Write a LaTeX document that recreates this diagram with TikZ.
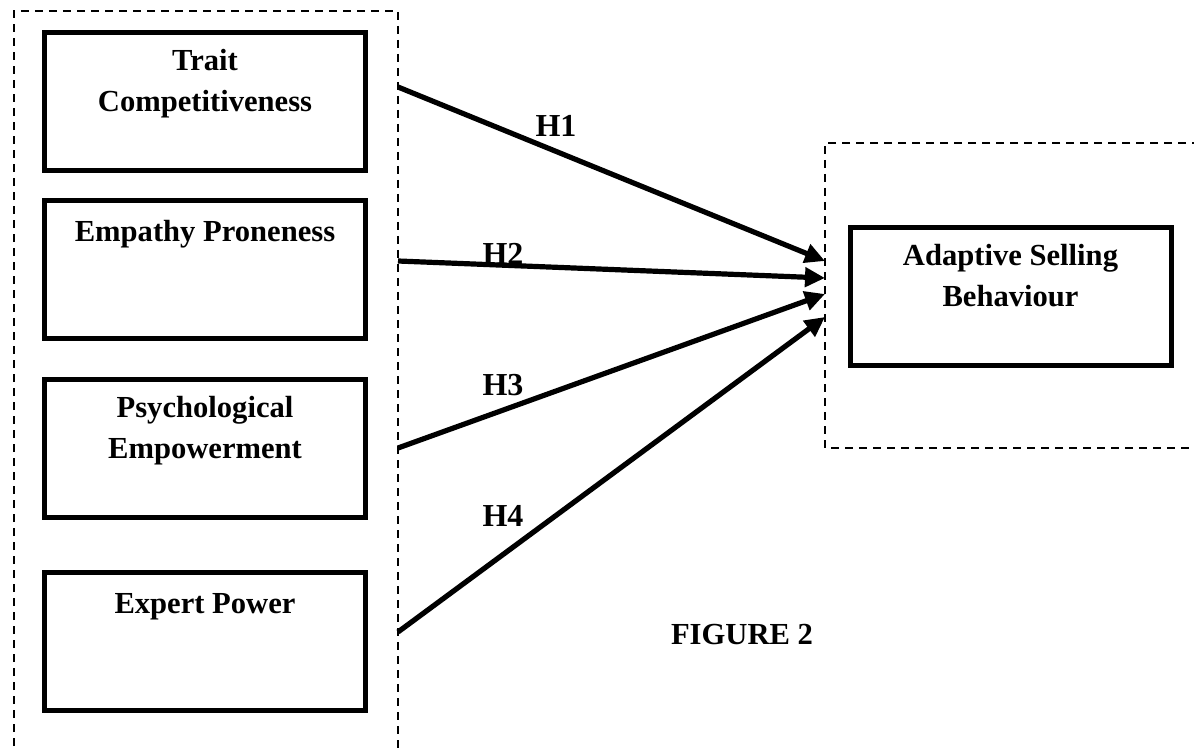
\documentclass[tikz,border=0pt]{standalone}
\usepackage{fontspec}
\setmainfont{Liberation Serif}
\usetikzlibrary{arrows.meta,positioning}
\tikzset{
  construct/.style={draw, line width=2.5pt, minimum width=160.5pt, minimum height=69pt, inner sep=0pt},
  boxtext/.style={font=\fontsize{15.3}{20.5}\selectfont\bfseries, align=center, inner sep=0pt, anchor=base},
  hyp/.style={font=\fontsize{16}{18}\selectfont\bfseries, inner sep=0pt},
  group/.style={line width=0.7pt, dash pattern=on 4pt off 3pt},
  path/.style={line width=2.6pt, -{Triangle[length=10pt, width=9.5pt]}}
}
\begin{document}
\begin{tikzpicture}[x=0.5pt, y=-0.5pt]
                \useasboundingbox (0,0) rectangle (1194,749);
                % dashed groups
                \draw[group] (14,760) -- (14,11) -- (398,11) -- (398,760);
                \draw[group] (1200,143) -- (825,143) -- (825,448) -- (1200,448);
                % predictors
                \node[construct] (tc) at (205,101.5) {};
                \node[construct] (ep) at (205,269) {};
                \node[construct] (pe) at (205,448.5) {};
                \node[construct] (xp) at (205,641.5) {};
                \node[construct] (asb) at (1010.5,296.5) {};
                % base = last line, so two-line texts go one line lower
                \node[boxtext] (tctext) at ([yshift=-41pt]tc.north) {Trait\\Competitiveness};
                \node[boxtext] (eptext) at ([yshift=-22pt]ep.north) {Empathy Proneness};
                \node[boxtext] (petext) at ([yshift=-40.5pt]pe.north) {Psychological\\Empowerment};
                \node[boxtext] (xptext) at ([yshift=-21.5pt]xp.north) {Expert Power};
                \node[boxtext] (asbtext) at ([yshift=-40.5pt]asb.north) {Adaptive Selling\\Behaviour};
                % arrow ends on the dashed lines
                \coordinate (s1) at (398,87);
                \coordinate (s2) at (398,261);
                \coordinate (s3) at (398,448);
                \coordinate (s4) at (398,632);
                \coordinate (e1) at (825,261);
                \coordinate (e2) at (825,278);
                \coordinate (e3) at (825,294);
                \coordinate (e4) at (825,317);
                \draw[path] (s1) -- (e1);
                \draw[path] (s2) -- (e2);
                \draw[path] (s3) -- (e3);
                \draw[path] (s4) -- (e4);
                \node[hyp] (h1) at (556,126) {H1};
                \node[hyp] (h2) at (503,254) {H2};
                \node[hyp] (h3) at (503,385) {H3};
                \node[hyp] (h4) at (503,516) {H4};
                \node[boxtext, anchor=center] (fig) at (742,635) {FIGURE 2};
            \end{tikzpicture}
\end{document}
